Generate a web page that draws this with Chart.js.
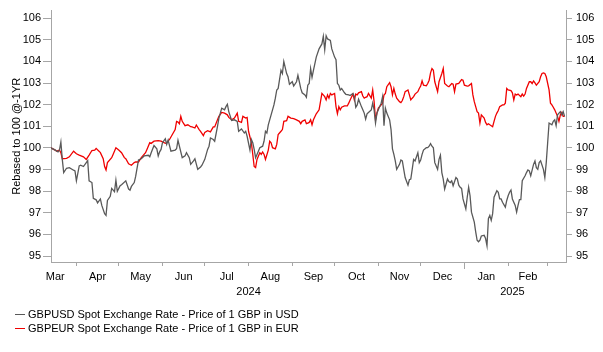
<!DOCTYPE html>
<html>
<head>
<meta charset="utf-8">
<script src="https://cdn.jsdelivr.net/npm/chart.js@4/dist/chart.umd.min.js"></script>
<style>
  body { margin: 0; background: #fff; font-family: "Liberation Sans", Arial, sans-serif; }
  #wrap { position: relative; width: 603px; height: 352px; }
  #legend { position: absolute; left: 15px; top: 307px; font-size: 11px; color: #000; }
  .item { display: flex; align-items: center; height: 14px; }
  .swatch { width: 10px; height: 1px; margin-right: 3px; }
</style>
</head>
<body>
<div id="wrap">
  <canvas id="myChart"></canvas>
  <div id="legend"></div>
</div>
<script>
// day 0 = 14 Mar 2024, day 365 = 14 Mar 2025
const usdDays = [0,3,5,6,7,8,9,11,13,16,17,18,20,21,23,25,26,27,29,30,32,33,35,36,38,39,40,42,43,45,46,47,49,50,53,55,56,57,59,60,62,64,66,69,70,71,73,75,76,77,78,79,81,82,83,85,88,89,90,91,93,95,96,98,99,101,102,104,106,107,109,111,112,113,115,116,118,119,121,123,124,125,126,128,130,132,133,135,137,138,139,141,142,143,144,145,146,148,150,151,152,153,154,156,158,159,160,161,163,164,165,167,168,169,171,172,174,175,176,177,178,180,181,182,183,184,185,186,188,190,192,193,194,195,196,198,199,201,202,203,204,205,206,208,209,211,212,214,215,216,217,218,220,221,222,223,224,225,227,228,229,230,231,232,234,235,236,237,238,240,241,242,243,244,245,247,248,249,250,251,253,254,255,256,257,258,260,261,262,263,264,266,267,268,269,270,271,272,274,275,276,277,278,279,281,282,283,284,285,287,288,289,290,291,292,294,295,296,297,298,300,301,302,303,304,305,307,308,309,310,311,312,313,314,316,317,318,319,320,322,323,324,325,326,327,329,330,331,332,333,334,336,337,338,339,340,342,343,344,345,346,347,349,350,351,352,353,355,356,357,358,359,361,362,363,364];
const usdValues = [100.0,99.90,99.82,99.90,100.27,99.47,98.86,99.06,99.09,98.97,98.94,98.48,99.17,99.20,99.14,99.32,99.41,98.48,98.40,97.67,97.60,97.46,97.64,97.34,96.96,96.88,97.57,97.76,98.13,97.98,98.51,97.99,98.25,98.30,98.48,98.10,98.05,98.22,98.40,98.68,99.44,99.50,99.63,99.66,99.59,99.78,100.11,99.96,99.63,99.82,99.93,100.24,100.42,100.16,100.36,99.85,99.90,99.96,100.35,100.08,99.55,99.63,99.78,99.55,99.24,99.40,99.50,99.01,99.12,99.20,99.47,99.93,100.08,100.46,100.39,100.31,101.00,101.38,101.84,101.76,101.91,102.02,101.68,101.27,101.30,101.23,100.77,100.88,100.69,100.77,100.54,99.90,100.39,100.24,99.93,99.55,99.70,100.01,100.08,100.31,100.77,100.69,101.07,101.53,101.99,102.30,102.68,102.75,103.59,103.44,104.00,103.44,103.29,102.94,103.06,102.86,103.06,103.36,103.06,102.75,102.55,102.45,102.34,102.90,102.98,103.67,103.26,103.59,104.20,104.58,104.81,105.16,104.54,105.19,105.04,104.97,104.58,104.20,104.08,102.98,102.90,102.68,102.75,102.55,102.48,102.45,102.42,102.52,102.37,101.88,101.99,102.25,101.91,101.76,101.61,101.33,101.58,101.64,101.76,102.07,101.76,101.15,101.61,101.76,102.07,102.37,101.03,101.84,101.61,101.30,100.85,99.96,99.70,99.40,99.01,99.24,99.44,99.40,99.01,98.63,98.28,98.53,98.56,99.01,99.47,99.40,99.78,99.32,99.44,99.70,99.90,100.01,100.01,100.08,100.20,100.08,100.01,99.32,99.01,99.47,99.66,98.86,98.56,98.10,98.56,98.44,98.40,98.48,98.25,98.63,98.56,98.28,98.18,98.13,97.64,97.18,97.72,98.18,97.79,97.03,96.57,96.12,95.73,95.66,95.73,95.93,95.96,95.81,95.48,96.73,96.88,96.65,96.96,97.72,98.02,97.95,97.64,97.64,97.49,97.26,97.57,97.79,97.95,98.05,97.64,97.34,97.03,97.34,97.61,97.61,98.48,98.71,98.86,98.98,98.94,98.71,99.24,99.40,99.09,99.01,99.32,99.40,99.01,98.63,99.32,100.24,101.15,101.07,101.23,101.30,101.03,101.53,101.68,101.53,101.68,101.46];

const eurDays = [0,3,4,6,7,8,11,13,16,18,20,23,25,27,29,31,32,34,35,37,38,39,40,43,44,46,48,50,52,53,55,57,59,60,62,64,67,68,70,71,73,76,78,81,82,84,86,88,89,90,91,92,93,95,97,99,100,102,103,105,106,108,109,111,113,115,116,118,119,121,123,125,126,128,130,132,133,135,136,138,139,140,142,143,144,145,146,148,149,150,151,152,154,155,156,157,159,160,161,163,164,165,167,168,170,172,174,176,177,178,180,181,182,183,184,185,186,188,190,191,192,194,195,196,197,198,199,201,202,203,204,205,206,208,210,211,212,214,215,216,217,218,220,221,222,223,224,225,227,228,229,230,231,232,234,235,236,237,238,240,241,242,243,244,245,247,248,249,250,251,253,254,255,256,257,258,260,261,262,263,264,266,267,268,269,270,271,272,274,275,277,278,279,281,282,284,285,286,287,289,291,292,293,295,296,298,299,300,301,302,303,304,305,307,308,309,310,311,313,314,315,316,317,318,320,321,322,323,324,326,327,328,329,330,331,333,334,335,336,337,339,340,341,342,343,344,346,347,348,349,350,351,353,354,355,356,357,359,360,361,362,363,364];
const eurValues = [100.0,99.90,99.85,99.90,99.78,99.50,99.52,99.59,99.85,99.73,99.67,99.59,99.47,99.67,99.88,99.90,99.98,99.85,99.78,99.50,99.14,98.98,99.32,99.55,99.70,100.01,99.90,99.78,99.55,99.50,99.27,99.20,99.32,99.35,99.35,99.55,99.78,99.93,100.24,100.21,100.31,100.34,100.31,100.21,100.24,100.39,100.62,100.85,101.23,101.20,101.12,101.46,101.23,101.03,101.07,100.98,100.97,100.92,101.06,100.85,100.77,100.57,100.72,100.80,100.74,100.97,100.97,101.30,101.46,101.64,101.61,101.53,101.41,101.30,101.38,101.61,101.23,101.18,101.46,101.38,101.41,100.77,100.24,99.70,99.14,99.09,99.47,99.78,99.70,99.81,99.70,99.47,99.90,100.31,100.24,100.01,99.96,100.16,100.62,100.77,100.85,101.23,101.26,101.46,101.38,101.35,101.30,101.23,101.12,101.23,101.30,101.12,101.15,101.18,101.30,101.07,101.30,101.58,101.76,102.14,102.52,102.37,102.22,102.45,102.30,102.52,102.45,102.52,101.91,101.58,101.91,101.76,101.88,101.94,101.94,102.07,102.22,102.49,102.22,102.49,102.45,102.55,102.60,102.40,102.30,102.34,102.37,102.52,102.30,102.68,102.14,101.30,101.61,101.84,101.99,102.07,102.45,102.52,102.83,103.02,102.83,102.45,102.75,102.49,102.30,102.14,102.10,102.19,102.37,102.60,102.68,102.45,102.22,102.30,102.37,102.49,102.60,102.75,102.86,103.10,102.90,102.87,102.98,103.13,103.47,103.67,103.59,103.06,102.60,103.06,103.44,103.67,102.98,102.86,102.83,102.98,102.95,102.60,102.95,102.98,103.16,103.13,102.90,102.86,102.87,102.98,102.45,102.14,101.91,101.68,101.61,101.15,101.53,101.38,101.18,101.07,101.12,101.07,100.98,101.23,101.46,101.61,101.73,101.91,101.99,101.99,102.07,102.75,102.68,102.65,102.55,102.22,102.49,102.45,102.49,102.37,102.49,102.40,102.49,102.75,103.06,103.06,102.98,103.10,103.01,102.90,103.06,103.29,103.44,103.47,103.44,103.29,102.68,102.07,101.99,101.88,101.76,101.46,101.23,101.53,101.64,101.46,101.46];

// x axis: month boundaries (tick marks) and label positions
const monthStartDays = [18,48,79,109,140,171,201,232,262,293,324,352];
const monthLabelDays = [3,33,63.5,94,124.5,155.5,186,216.5,247,277.5,308.5,338];
const monthLabels = ["Mar","Apr","May","Jun","Jul","Aug","Sep","Oct","Nov","Dec","Jan","Feb"];
const yearLabelDays = [140,327];
const yearLabels = ["2024","2025"];
const yearStartDay = 293;

const usdName = "GBPUSD Spot Exchange Rate - Price of 1 GBP in USD";
const eurName = "GBPEUR Spot Exchange Rate - Price of 1 GBP in EUR";
const usdColor = "#595959";
const eurColor = "#f00000";
const axisColor = "#a6a6a6";

function toPoints(days, vals) {
  return days.map((d, i) => ({x: d, y: vals[i]}));
}

const labelAt = {};
monthStartDays.forEach(d => { labelAt[d] = ""; });
monthLabelDays.forEach((d, i) => { labelAt[d] = monthLabels[i]; });
yearLabelDays.forEach((d, i) => { labelAt[d] = ["", yearLabels[i]]; });
const xTicks = Object.keys(labelAt).map(Number).sort((a, b) => a - b);

const font = {family: "'Liberation Sans', Arial, sans-serif", size: 11};

// longer tick mark at the year change
const yearTick = {
  id: 'yearTick',
  afterDraw(chart) {
    const x = chart.scales.x;
    const px = Math.round(x.getPixelForValue(yearStartDay)) + 0.5;
    const ctx = chart.ctx;
    ctx.save();
    ctx.strokeStyle = axisColor;
    ctx.lineWidth = 1;
    ctx.beginPath();
    ctx.moveTo(px, x.top);
    ctx.lineTo(px, x.top + 7);
    ctx.stroke();
    ctx.restore();
  }
};

new Chart("myChart", {
  type: "line",
  data: {
    datasets: [{
      label: usdName,
      data: toPoints(usdDays, usdValues),
      borderColor: usdColor,
      borderWidth: 1.3,
      pointRadius: 0,
      fill: false
    }, {
      label: eurName,
      data: toPoints(eurDays, eurValues),
      borderColor: eurColor,
      borderWidth: 1.3,
      pointRadius: 0,
      fill: false
    }]
  },
  options: {
    responsive: true,
    maintainAspectRatio: false,
    animation: false,
    layout: {padding: {top: 8, left: 0, right: 0, bottom: 0}},
    plugins: {legend: {display: false}, tooltip: {enabled: false}},
    scales: {
      x: {
        type: "linear",
        min: 0,
        max: 365,
        afterBuildTicks: scale => { scale.ticks = xTicks.map(v => ({value: v})); },
        afterFit: scale => { scale.height = 90; },
        border: {color: axisColor},
        grid: {
          drawOnChartArea: false,
          tickLength: 4,
          tickColor: ctx => (monthStartDays.includes(ctx.tick.value) ? axisColor : "rgba(0,0,0,0)")
        },
        ticks: {
          autoSkip: false,
          maxRotation: 0,
          padding: 4,
          color: "#000",
          font: {...font, lineHeight: 1.35},
          callback: value => labelAt[value]
        }
      },
      y: {
        position: "left",
        min: 94.725,
        max: 106.35,
        afterFit: scale => { scale.width = 51; },
        border: {color: axisColor},
        grid: {drawOnChartArea: false, tickLength: 8, tickColor: axisColor},
        title: {display: true, text: "Rebased to 100 @-1YR", color: "#000", font: font, padding: {top: 10, bottom: 0}},
        ticks: {stepSize: 1, includeBounds: false, padding: 2, color: "#000", font: font}
      },
      y2: {
        position: "right",
        display: true,
        min: 94.725,
        max: 106.35,
        afterFit: scale => { scale.width = 37; },
        border: {color: axisColor},
        grid: {drawOnChartArea: false, tickLength: 6, tickColor: axisColor},
        ticks: {stepSize: 1, includeBounds: false, padding: 4, color: "#000", font: font}
      }
    }
  },
  plugins: [yearTick]
});

const legend = document.getElementById("legend");
[[usdName, usdColor], [eurName, eurColor]].forEach(([name, color]) => {
  const row = document.createElement("div");
  row.className = "item";
  const sw = document.createElement("span");
  sw.className = "swatch";
  sw.style.background = color;
  const txt = document.createElement("span");
  txt.textContent = name;
  row.appendChild(sw);
  row.appendChild(txt);
  legend.appendChild(row);
});
</script>
</body>
</html>
